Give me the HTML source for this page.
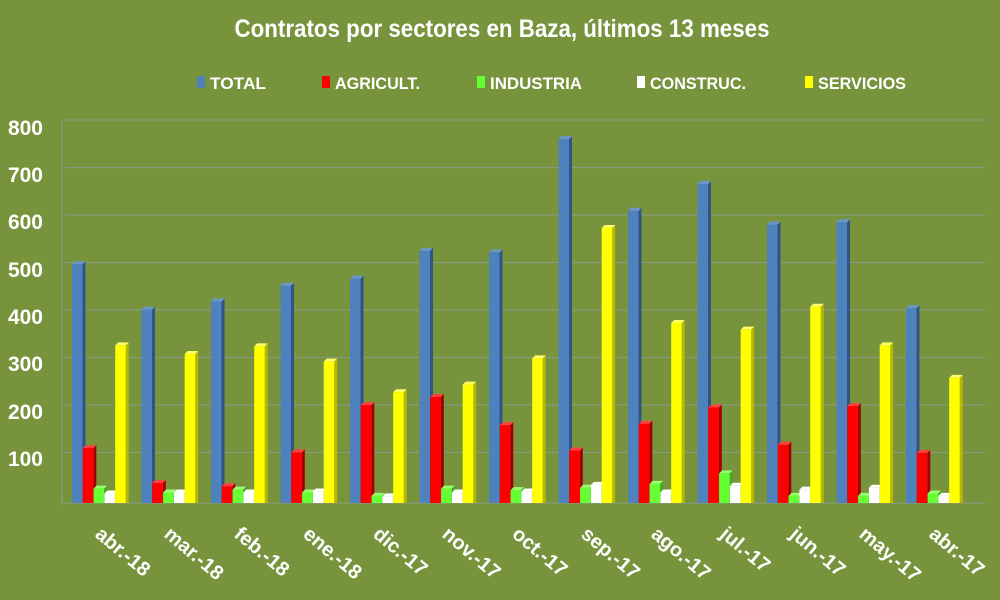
<!DOCTYPE html>
<html><head><meta charset="utf-8"><style>
body{margin:0;background:#77933c}
svg{display:block}
text{font-family:"Liberation Sans",sans-serif;font-weight:bold;fill:#fff}
</style></head><body>
<svg id="s" width="1000" height="600" viewBox="0 0 1000 600">
<rect width="1000" height="600" fill="#77933c"/>
<text x="502" y="37" text-anchor="middle" font-size="25" textLength="535" lengthAdjust="spacingAndGlyphs">Contratos por sectores en Baza, últimos 13 meses</text>
<g font-size="17">
<rect x="197" y="76" width="8" height="12" fill="#4f81bd"/><text x="210" y="89" textLength="56" lengthAdjust="spacingAndGlyphs">TOTAL</text>
<rect x="322" y="76" width="8" height="12" fill="#ff0000"/><text x="335" y="89" textLength="85" lengthAdjust="spacingAndGlyphs">AGRICULT.</text>
<rect x="477" y="76" width="8" height="12" fill="#66ff33"/><text x="490" y="89" textLength="92" lengthAdjust="spacingAndGlyphs">INDUSTRIA</text>
<rect x="637" y="76" width="8" height="12" fill="#ffffff"/><text x="650" y="89" textLength="96" lengthAdjust="spacingAndGlyphs">CONSTRUC.</text>
<rect x="805" y="76" width="8" height="12" fill="#ffff00"/><text x="818" y="89" textLength="88" lengthAdjust="spacingAndGlyphs">SERVICIOS</text>
</g>
<g stroke="#889a7c" stroke-width="1.2">
<line x1="65" y1="120" x2="985" y2="120"/><line x1="65" y1="167.5" x2="985" y2="167.5"/>
<line x1="65" y1="215" x2="985" y2="215"/><line x1="65" y1="262.5" x2="985" y2="262.5"/>
<line x1="65" y1="310" x2="985" y2="310"/><line x1="65" y1="357.5" x2="985" y2="357.5"/>
<line x1="65" y1="405" x2="985" y2="405"/><line x1="65" y1="452.5" x2="985" y2="452.5"/>
<line x1="62" y1="503" x2="985" y2="503"/><line x1="62" y1="120" x2="62" y2="505"/>
</g>
<g font-size="21" text-anchor="end">
<text x="43" y="135">800</text><text x="43" y="182">700</text><text x="43" y="229">600</text>
<text x="43" y="277">500</text><text x="43" y="324">400</text><text x="43" y="371">300</text>
<text x="43" y="419">200</text><text x="43" y="466">100</text>
</g>
<g id="bars"></g>
<g font-size="20">
<text transform="translate(94,536) rotate(40)">abr.-18</text>
<text transform="translate(163,536) rotate(40)">mar.-18</text>
<text transform="translate(233,536) rotate(40)">feb.-18</text>
<text transform="translate(302,536) rotate(40)">ene.-18</text>
<text transform="translate(372,536) rotate(40)">dic.-17</text>
<text transform="translate(441,536) rotate(40)">nov.-17</text>
<text transform="translate(511,536) rotate(40)">oct.-17</text>
<text transform="translate(580,536) rotate(40)">sep.-17</text>
<text transform="translate(650,536) rotate(40)">ago.-17</text>
<text transform="translate(719,536) rotate(40)">jul.-17</text>
<text transform="translate(789,536) rotate(40)">jun.-17</text>
<text transform="translate(858,536) rotate(40)">may.-17</text>
<text transform="translate(928,536) rotate(40)">abr.-17</text>
</g>
</svg>
<script>
var d=[[500,405,422,455,470,528,525,762,612,668,583,588,408],
[115,42,35,106,205,222,163,110,166,200,122,203,105],
[30,22,28,22,15,30,27,32,40,62,15,15,20],
[20,22,22,24,14,22,24,38,22,36,28,32,15],
[330,312,328,296,232,248,303,576,377,363,411,330,262]];
var c=[["#4f81bd","#2f5586","#6a96cc"],["#ff0000","#a00000","#ff4040"],["#66ff33","#3fae1c","#99ff70"],["#ffffff","#c8c8c8","#ffffff"],["#ffff00","#b8b800","#ffff66"]];
var g=document.getElementById("bars"),h="";
for(var i=0;i<13;i++)for(var s=0;s<5;s++){
var x=72+i*69.5+s*10.8,w=10.5,v=d[s][i],y=503-v*0.4775,k=3;
h+='<polygon points="'+(x+w)+','+y+' '+(x+w+k)+','+(y-k)+' '+(x+w+k)+',503 '+(x+w)+',503" fill="'+c[s][1]+'"/>';
h+='<polygon points="'+x+','+y+' '+(x+k)+','+(y-k)+' '+(x+w+k)+','+(y-k)+' '+(x+w)+','+y+'" fill="'+c[s][2]+'"/>';
h+='<rect x="'+x+'" y="'+y+'" width="'+w+'" height="'+(503-y)+'" fill="'+c[s][0]+'"/>';}
g.innerHTML=h;
</script>
</body></html>
